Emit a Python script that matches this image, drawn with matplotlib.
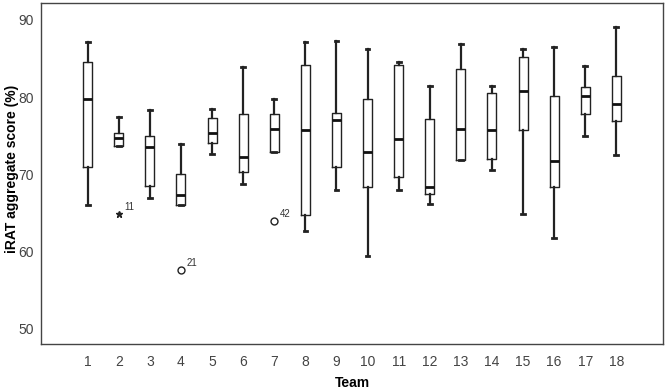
import matplotlib
matplotlib.use("Agg")
import matplotlib.pyplot as plt

plt.rcParams["font.family"] = ["Liberation Sans", "DejaVu Sans"]

# per-team five-number summaries (iRAT %)
teams = list(range(1, 19))
whisker_lo = [66.0, 73.7, 66.9, 66.0, 72.6, 68.7, 72.9, 62.7, 67.9,
              59.4, 68.0, 66.2, 71.8, 70.5, 64.8, 61.7, 74.9, 72.5]
q1 = [70.9, 73.7, 68.5, 66.0, 74.0, 70.3, 72.9, 64.7, 71.0,
      68.4, 69.7, 67.5, 71.9, 72.0, 75.7, 68.3, 77.8, 76.9]
medians = [79.8, 74.7, 73.6, 67.3, 75.3, 72.3, 75.9, 75.8, 77.0,
           72.9, 74.6, 68.3, 75.9, 75.8, 80.8, 71.7, 80.1, 79.1]
q3 = [84.6, 75.4, 75.0, 70.1, 77.3, 77.8, 77.8, 84.2, 78.0,
      79.7, 84.2, 77.2, 83.7, 80.6, 85.2, 80.2, 81.3, 82.7]
whisker_hi = [87.1, 77.4, 78.3, 73.9, 78.5, 83.9, 79.8, 87.1, 87.3,
              86.2, 84.5, 81.5, 86.9, 81.5, 86.2, 86.5, 84.0, 89.1]

# outliers: team, value, case label, marker
out_team = [2, 4, 7]
out_value = [64.8, 57.6, 63.9]
out_label = ["11", "21", "42"]
out_marker = ["*", "o", "o"]

stats = []
for i in range(len(teams)):
    stats.append(dict(whislo=whisker_lo[i], q1=q1[i], med=medians[i],
                      q3=q3[i], whishi=whisker_hi[i], fliers=[]))

line = "#222222"
fig = plt.figure(figsize=(6.66, 3.92), dpi=100)
ax = fig.add_axes([0.0616, 0.1224, 0.9339, 0.8699])

ax.bxp(stats, positions=teams, widths=0.29, showfliers=False,
       boxprops=dict(color=line, linewidth=1.0),
       medianprops=dict(color="#111111", linewidth=2.0),
       whiskerprops=dict(color=line, linewidth=1.6),
       capprops=dict(color=line, linewidth=2.0),
       capwidths=0.12)

for t, v, lab, m in zip(out_team, out_value, out_label, out_marker):
    if m == "*":
        ax.plot(t, v, marker="*", color="#222222", markersize=5, linestyle="none")
    else:
        ax.plot(t, v, marker="o", markerfacecolor="white", markeredgecolor="#222222",
                markersize=5, markeredgewidth=1.0, linestyle="none")
    ax.annotate(lab, (t, v), xytext=(4, 3), textcoords="offset points",
                fontsize=7, color="#333333")

ax.set_xlim(-0.5, 19.5)
ax.set_ylim(48.0, 92.2)
ax.set_xticks(teams)
ax.set_xticklabels([str(t) for t in teams])
ax.set_yticks([50, 60, 70, 80, 90])
ax.tick_params(length=0, labelsize=10, colors="#444444")
ax.tick_params(axis="x", pad=8)
ax.tick_params(axis="y", pad=5)
for s in ax.spines.values():
    s.set_color("#444444")
    s.set_linewidth(1.0)

ax.set_ylabel("iRAT aggregate score (%)", fontsize=10, fontweight="bold", va="center")
ax.yaxis.set_label_coords(-0.047, 0.515)
ax.set_xlabel("Team", fontsize=10, fontweight="bold", va="center")
ax.xaxis.set_label_coords(0.5, -0.114)

fig.savefig("out.png", dpi=100)
